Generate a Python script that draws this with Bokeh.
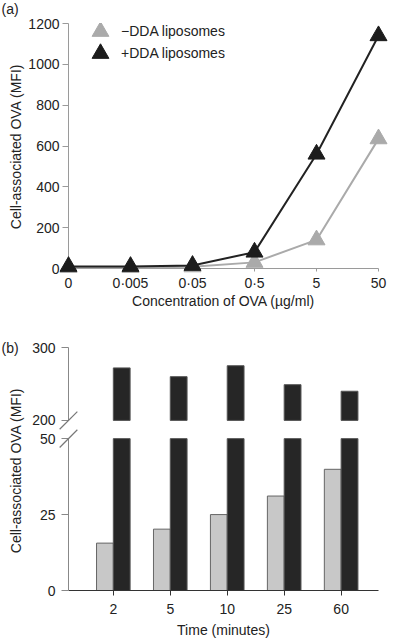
import numpy as np
from bokeh.plotting import figure
from bokeh.models import Range1d, FixedTicker, Legend, LegendItem
from bokeh.core.properties import value
from bokeh.layouts import column
from bokeh.embed import file_html
from bokeh.resources import INLINE

FONT = "Liberation Sans"
TXT = "#222222"

# ---------------- data ----------------
conc_labels = ["0", "0·005", "0·05", "0·5", "5", "50"]
minus_dda = [5, 5, 8, 30, 140, 635]
plus_dda = [10, 10, 15, 80, 560, 1140]
series_names = ["\u2212DDA liposomes", "+DDA liposomes"]

time_labels = ["2", "5", "10", "25", "60"]
minus_time = [15.6, 20.2, 25.0, 31.1, 39.9]
plus_time = [272, 260, 275, 249, 240]

a_yticks = [0, 200, 400, 600, 800, 1000, 1200]
b_upper_ticks = [200, 300]
b_lower_ticks = [0, 25, 50]
BREAK_LOW = 50
BREAK_HIGH = 200
B_TOP = 300

GRAY_LINE = "#aaaaaa"
BLACK_LINE = "#222222"
BAR_GRAY = "#c8c8c8"
BAR_BLACK = "#262626"
AX_B = "#888888"

W = 410
Y_TITLE = "Cell-associated OVA (MFI)"


def style_axis(ax, color, tick_out, standoff):
    ax.axis_line_color = color
    ax.major_tick_line_color = color
    ax.major_tick_out = tick_out
    ax.major_tick_in = 0
    ax.minor_tick_line_color = None
    ax.major_label_standoff = standoff
    ax.major_label_text_font = FONT
    ax.major_label_text_font_size = "14px"
    ax.major_label_text_color = TXT
    ax.axis_label_text_font = FONT
    ax.axis_label_text_font_size = "14px"
    ax.axis_label_text_font_style = "normal"
    ax.axis_label_text_color = TXT


def add_text(p, x, y, txt, dx, dy, angle=0.0, align="left", **kw):
    p.text(x=[x], y=[y], text=[txt], x_offset=dx, y_offset=dy, angle=angle,
           text_align=align, text_baseline="middle", text_font=value(FONT),
           text_font_size=value("14px"), text_color=TXT, level="overlay", **kw)


# ---------------- panel (a) ----------------
xa = np.arange(len(conc_labels))
pa = figure(width=W, height=325, output_backend="svg", toolbar_location=None,
            x_range=Range1d(0, len(conc_labels) - 1), y_range=Range1d(0, 1200),
            min_border_left=68, min_border_right=32, min_border_top=23, min_border_bottom=57)
pa.outline_line_color = None
pa.grid.visible = False

pa.line(xa, minus_dda, line_color=GRAY_LINE, line_width=2, level="overlay")
r_g_pts = pa.scatter(xa, minus_dda, marker="triangle", size=17, fill_color=GRAY_LINE,
                     line_color=GRAY_LINE, level="overlay")
pa.line(xa, plus_dda, line_color=BLACK_LINE, line_width=2, level="overlay")
r_b_pts = pa.scatter(xa, plus_dda, marker="triangle", size=17, fill_color="#1c1c1c",
                     line_color="#1c1c1c", level="overlay")

pa.xaxis.ticker = FixedTicker(ticks=list(xa))
pa.xaxis.major_label_overrides = {int(i): s for i, s in zip(xa, conc_labels)}
pa.xaxis.axis_label = "Concentration of OVA (\u00b5g/ml)"
pa.yaxis.ticker = FixedTicker(ticks=a_yticks)
style_axis(pa.xaxis[0], "#9a9a9a", 3, 3)
style_axis(pa.yaxis[0], "#9a9a9a", 6, 3)
pa.xaxis.axis_label_standoff = -1

for name, rend, loc in [(series_names[0], r_g_pts, (11, 216)),
                        (series_names[1], r_b_pts, (11, 194))]:
    lg = Legend(items=[LegendItem(label=name, renderers=[rend])],
                location=loc, padding=0, margin=0, spacing=0,
                glyph_width=42, glyph_height=42, label_standoff=-4,
                border_line_color=None, background_fill_alpha=0,
                label_text_font=FONT, label_text_font_size="14px", label_text_color=TXT)
    pa.add_layout(lg)

add_text(pa, xa[0], a_yticks[-1], "(a)", -67, -15)
add_text(pa, xa[0], a_yticks[0], Y_TITLE, -53, -122, angle=np.pi / 2, align="center")

# ---------------- panel (b): broken y axis ----------------
xb = np.arange(1, len(time_labels) + 1)
bar_w = 0.295
x_start, x_end = 1 - 0.787, len(time_labels) + 0.656

# lower scale: 0..LOW_END on the whole frame; upper scale maps onto the same frame
LOW_END = 80
UP_PER_LOW = 24 / 100          # lower-scale units per upper-scale unit


def upper_to_lower(u):
    return LOW_END - (B_TOP - u) * 24 / 100


upper_start = B_TOP - LOW_END / UP_PER_LOW

pb = figure(width=W, height=315, output_backend="svg", toolbar_location=None,
            x_range=Range1d(x_start, x_end), y_range=Range1d(0, LOW_END),
            min_border_left=68, min_border_right=10, min_border_top=22, min_border_bottom=49)
pb.extra_y_ranges = {"upper": Range1d(upper_start, B_TOP)}
pb.outline_line_color = None
pb.grid.visible = False

pb.vbar(x=xb - bar_w / 2, width=bar_w, bottom=0, top=minus_time,
        fill_color=BAR_GRAY, line_color="#666666", line_width=1)
pb.vbar(x=xb + bar_w / 2, width=bar_w, bottom=0, top=np.minimum(plus_time, BREAK_LOW),
        fill_color=BAR_BLACK, line_color="#555555", line_width=1)
pb.vbar(x=xb + bar_w / 2, width=bar_w, bottom=BREAK_HIGH, top=plus_time,
        fill_color=BAR_BLACK, line_color="#555555", line_width=1, y_range_name="upper")

pb.xaxis.ticker = FixedTicker(ticks=list(xb))
pb.xaxis.major_label_overrides = {int(i): s for i, s in zip(xb, time_labels)}
pb.xaxis.axis_label = "Time (minutes)"
style_axis(pb.xaxis[0], "#333333", 5, 8)
pb.xaxis.axis_label_standoff = 5

up_pos = [upper_to_lower(u) for u in b_upper_ticks]
up_pos = [int(v) if float(v).is_integer() else v for v in up_pos]
pb.yaxis.ticker = FixedTicker(ticks=b_lower_ticks + up_pos)
pb.yaxis.major_label_overrides = {v: str(u) for v, u in zip(up_pos, b_upper_ticks)}
style_axis(pb.yaxis[0], AX_B, 7, 6)
pb.yaxis.axis_line_color = None

# the two pieces of the y axis line and the break marks
pb.segment(x0=[x_start], y0=[0], x1=[x_start], y1=[BREAK_LOW],
           line_color=AX_B, line_width=1, level="overlay")
pb.segment(x0=[x_start], y0=[BREAK_HIGH], x1=[x_start], y1=[B_TOP],
           line_color=AX_B, line_width=1, level="overlay", y_range_name="upper")
pb.scatter([x_start], [BREAK_HIGH], marker="dash", size=25, angle=np.pi / 4,
           line_color="#777777", line_width=1.2, level="overlay", y_range_name="upper")
pb.scatter([x_start], [BREAK_LOW], marker="dash", size=25, angle=np.pi / 4,
           line_color="#777777", line_width=1.2, level="overlay")

add_text(pb, x_start, B_TOP, "(b)", -67, 0, y_range_name="upper")
add_text(pb, x_start, b_lower_ticks[0], Y_TITLE, -53, -120, angle=np.pi / 2, align="center")

layout = column(pa, pb, spacing=0)
open("out.html", "w").write(file_html(layout, INLINE))
